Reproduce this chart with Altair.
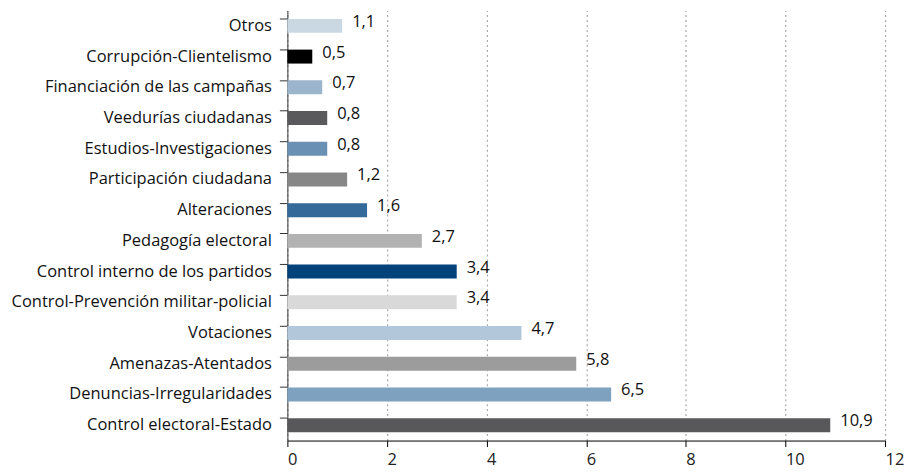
import altair as alt
import pandas as pd

categories = [
    "Otros", "Corrupción-Clientelismo", "Financiación de las campañas",
    "Veedurías ciudadanas", "Estudios-Investigaciones", "Participación ciudadana",
    "Alteraciones", "Pedagogía electoral", "Control interno de los partidos",
    "Control-Prevención militar-policial", "Votaciones", "Amenazas-Atentados",
    "Denuncias-Irregularidades", "Control electoral-Estado",
]
values = [1.1, 0.5, 0.7, 0.8, 0.8, 1.2, 1.6, 2.7, 3.4, 3.4, 4.7, 5.8, 6.5, 10.9]
bar_colors = [
    "#cad8e4", "#000000", "#9bb5cd", "#5a5a5c", "#6a90b4", "#878787", "#336a9a",
    "#b2b2b2", "#00427a", "#d9d9d9", "#b3c7db", "#9c9c9c", "#7fa1c0", "#58585a",
]
x_ticks = [0, 2, 4, 6, 8, 10, 12]

df = pd.DataFrame({
    "cat": categories,
    "val": values,
    "lbl": [f"{v:.1f}".replace(".", ",") for v in values],
})

FONT = "Open Sans"
FS = 16.5

y_enc = alt.Y("cat:N", sort=categories, title=None,
              scale=alt.Scale(paddingInner=0.55, paddingOuter=0.275),
              axis=alt.Axis(bandPosition=0, labelFontSize=FS, labelColor="#111",
                            labelFont=FONT, labelPadding=8, tickSize=8,
                            tickColor="#333", domainColor="#333", labelLimit=400))
x_enc = alt.X("val:Q", title=None,
              scale=alt.Scale(domain=[0, 12], nice=False),
              axis=alt.Axis(values=x_ticks, grid=True, gridDash=[2, 3],
                            gridColor="#aaaaaa", gridWidth=1.2,
                            domainColor="#000", tickColor="#000", tickSize=6,
                            labelFontSize=FS, labelFont=FONT, labelColor="#222",
                            labelPadding=5, labelAlign="left", labelFlush=False,
                            format="d"))

bars = alt.Chart(df).mark_bar(size=14).encode(
    x=x_enc,
    y=y_enc,
    color=alt.Color("cat:N", scale=alt.Scale(domain=categories, range=bar_colors),
                    legend=None),
)

text = alt.Chart(df).mark_text(align="left", dx=10, dy=-4, fontSize=FS,
                               font=FONT, color="#111").encode(
    x="val:Q", y=alt.Y("cat:N", sort=categories), text="lbl:N"
)

chart = alt.layer(bars, text).properties(
    width=599, height=431,
    autosize=alt.AutoSizeParams(type="none"),
    padding={"left": 280, "top": 2, "right": 20, "bottom": 30},
).configure_view(stroke=None)

chart.save("out.html", embed_options={"renderer": "svg", "actions": False})
